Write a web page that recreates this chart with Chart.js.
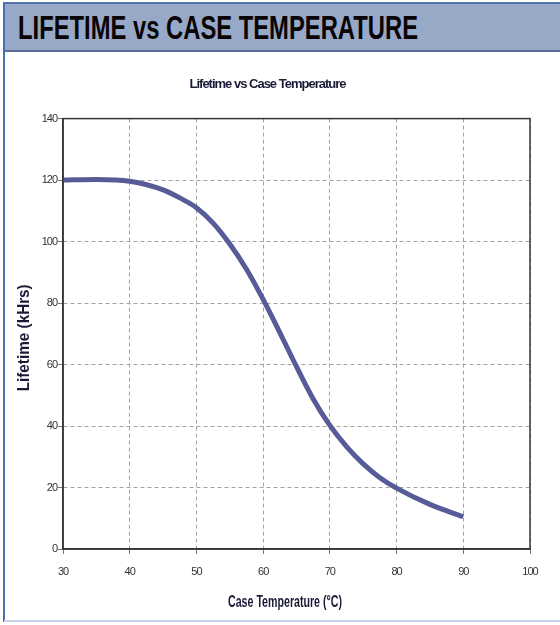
<!DOCTYPE html>
<html>
<head>
<meta charset="utf-8">
<script src="https://cdn.jsdelivr.net/npm/chart.js@4/dist/chart.umd.min.js"></script>
<style>
  html, body { margin: 0; padding: 0; background: #fff; }
  body { width: 560px; height: 625px; position: relative; overflow: hidden; }
  .header {
    position: absolute; left: 4px; top: 2px; width: 556px; height: 50px;
    background: #97a9c7; border-top: 2px solid #5573ab; border-bottom: 2px solid #5a6f99;
    box-sizing: border-box; overflow: hidden;
  }
  .header span {
    position: absolute; left: 14px; top: 5px; white-space: nowrap;
    font-family: "Liberation Sans", Arial, sans-serif; font-weight: bold; font-size: 33px;
    color: #0a0505; line-height: 38px; transform-origin: 0 0;
  }
  .leftline { position: absolute; left: 3px; top: 2px; width: 2px; height: 620px; background: #4f70b0; }
  .bottomline { position: absolute; left: 4px; top: 620px; width: 556px; height: 2px; background: #c9d5ea; }
  .chart-wrap { position: absolute; left: 5px; top: 52px; width: 555px; height: 568px; }
</style>
</head>
<body>
<div class="header"><span id="headText">LIFETIME vs CASE TEMPERATURE</span></div>
<div class="leftline"></div>
<div class="bottomline"></div>
<div class="chart-wrap"><canvas id="lifetimeChart"></canvas></div>
<script>
// case temperature (°C) and lifetime (kHrs)
const temperatures = [30, 35, 40, 45, 47.5, 50, 52.5, 55, 57.5, 60, 62.5, 65, 67.5, 70, 72.5, 75, 77.5, 80, 85, 90];
const lifetimes = [120, 120.2, 119.6, 116.8, 114.2, 111, 106, 99.2, 91, 81.2, 70.4, 59.3, 48.8, 40.2, 33.3, 27.7, 23.2, 19.8, 14.5, 10.5];
const xTicks = [30, 40, 50, 60, 70, 80, 90, 100];
const yTicks = [0, 20, 40, 60, 80, 100, 120, 140];
const xTitle = 'Case Temperature (°C)';
const yTitle = 'Lifetime (kHrs)';

// squeeze the banner text to the narrow width of the original
const head = document.getElementById('headText');
head.style.transform = 'scaleX(' + (400 / head.getBoundingClientRect().width) + ')';

const narrow = '"Liberation Sans", Arial, sans-serif';

// no condensed face installed, so tighten the letters instead
const tightText = {
    id: 'tightText',
    beforeUpdate(chart) { chart.ctx.letterSpacing = '-1px'; },
    beforeDraw(chart) { chart.ctx.letterSpacing = '-1px'; },
};

// box around the plot area (Chart.js only draws left and bottom axis lines)
const frameBox = {
    id: 'frameBox',
    afterDraw(chart) {
        const { ctx, chartArea } = chart;
        ctx.save();
        ctx.setLineDash([]);
        ctx.strokeStyle = '#3a3431';
        ctx.lineWidth = 1.5;
        ctx.strokeRect(chartArea.left, chartArea.top, chartArea.right - chartArea.left, chartArea.bottom - chartArea.top);
        ctx.restore();
    }
};

// axis titles in a squeezed bold face, like the condensed font of the original
function narrowText(ctx, text, x, y, width, rotate) {
    ctx.save();
    ctx.letterSpacing = '0px';
    ctx.font = 'bold 16px ' + narrow;
    ctx.fillStyle = '#1b1b38';
    ctx.textAlign = 'center';
    ctx.textBaseline = 'middle';
    ctx.translate(x, y);
    if (rotate) ctx.rotate(-Math.PI / 2);
    ctx.scale(width / ctx.measureText(text).width, 1);
    ctx.fillText(text, 0, 0);
    ctx.restore();
}
const axisTitles = {
    id: 'axisTitles',
    afterDraw(chart) {
        const { ctx, chartArea } = chart;
        narrowText(ctx, xTitle, 280, 551, 114, false);
        narrowText(ctx, yTitle, 20, (chartArea.top + chartArea.bottom) / 2 + 4, 107, true);
    }
};

const gridOpts = {
    color: '#a3a3a3',
    tickLength: 5,
    tickColor: '#777',
    tickBorderDash: [],
};

const ctx = document.getElementById('lifetimeChart').getContext('2d');
new Chart(ctx, {
    type: 'line',
    data: {
        datasets: [
            {
                label: 'Lifetime',
                data: temperatures.map((t, i) => ({ x: t, y: lifetimes[i] })),
                borderColor: '#575c98',
                borderWidth: 5,
                pointRadius: 0,
                cubicInterpolationMode: 'monotone',
                fill: false,
            },
        ],
    },
    plugins: [tightText, frameBox, axisTitles],
    options: {
        responsive: true,
        maintainAspectRatio: false,
        animation: false,
        layout: { padding: { left: 0, right: 30, top: 0, bottom: 0 } },
        plugins: {
            legend: { display: false },
            tooltip: { enabled: false },
            title: {
                display: true,
                text: 'Lifetime vs Case Temperature',
                color: '#1b1b38',
                font: { family: narrow, size: 13, weight: 'bold' },
                padding: { top: 25, bottom: 26 },
            },
        },
        scales: {
            x: {
                type: 'linear',
                min: 30,
                max: 100,
                afterBuildTicks: (scale) => { scale.ticks = xTicks.map((v) => ({ value: v })); },
                afterFit: (scale) => { scale.height = 71; },
                ticks: { color: '#333', font: { family: narrow, size: 11 }, padding: 11 },
                grid: gridOpts,
                border: { color: '#3a3431', width: 1.5, dash: [4, 3] },
            },
            y: {
                min: 0,
                max: 140,
                afterBuildTicks: (scale) => { scale.ticks = yTicks.map((v) => ({ value: v })); },
                afterFit: (scale) => { scale.width = 58; },
                ticks: { color: '#333', font: { family: narrow, size: 11 }, padding: 1 },
                grid: gridOpts,
                border: { color: '#3a3431', width: 1.5, dash: [4, 3] },
            },
        },
    },
});
</script>
</body>
</html>
